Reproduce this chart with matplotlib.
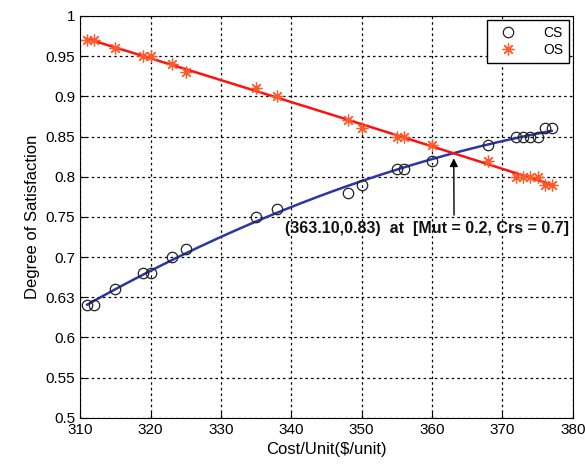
import numpy as np
import matplotlib
matplotlib.use("Agg")
import matplotlib.pyplot as plt

plt.rcParams["font.family"] = ["Liberation Sans", "DejaVu Sans"]

# ── Data ──────────────────────────────────────────────────────────────────────
cs_cost = [311, 312, 315, 319, 320, 323, 325, 335, 338, 348, 350, 355, 356,
           360, 368, 372, 373, 374, 375, 376, 377]
cs_sat = [0.64, 0.64, 0.66, 0.68, 0.68, 0.70, 0.71, 0.75, 0.76, 0.78, 0.79,
          0.81, 0.81, 0.82, 0.84, 0.85, 0.85, 0.85, 0.85, 0.86, 0.86]

os_cost = [311, 312, 315, 319, 320, 323, 325, 335, 338, 348, 350, 355, 356,
           360, 368, 372, 373, 374, 375, 376, 377]
os_sat = [0.97, 0.97, 0.96, 0.95, 0.95, 0.94, 0.93, 0.91, 0.90, 0.87, 0.86,
          0.85, 0.85, 0.84, 0.82, 0.80, 0.80, 0.80, 0.80, 0.79, 0.79]

x_ticks = [310, 320, 330, 340, 350, 360, 370, 380]
y_ticks = [0.5, 0.55, 0.6, 0.65, 0.7, 0.75, 0.8, 0.85, 0.9, 0.95, 1.0]
y_tick_labels = ["0.5", "0.55", "0.6", "0.63", "0.7", "0.75", "0.8", "0.85",
                 "0.9", "0.95", "1"]

cross_pt = (363.10, 0.83)
note = "(363.10,0.83)  at  [Mut = 0.2, Crs = 0.7]"

# ── Figure ────────────────────────────────────────────────────────────────────
fig = plt.figure(figsize=(5.85, 4.69), dpi=100)
ax = fig.add_axes([0.137, 0.109, 0.842, 0.857])

# fitted curves
xf = np.linspace(min(cs_cost), max(cs_cost), 200)
cs_fit = np.polyval(np.polyfit(cs_cost, cs_sat, 2), xf)
os_fit = np.polyval(np.polyfit(os_cost, os_sat, 2), xf)
ax.plot(xf, cs_fit, color="#2a35a8", lw=1.8, zorder=2)
ax.plot(xf, os_fit, color="#ff1010", lw=1.8, zorder=2)

# MATLAB-like asterisk marker
star = (8, 2, 0)
ax.plot(cs_cost, cs_sat, "o", mfc="none", mec="#222222", ms=7.5, mew=0.9,
        label="CS", zorder=3)
ax.plot(os_cost, os_sat, linestyle="none", marker=star, color="#ff5a2a",
        ms=8.5, mew=0.9, label="OS", zorder=3)

ax.annotate(note, xy=(cross_pt[0], cross_pt[1] - 0.007),
            xytext=(359.3, 0.736), textcoords="data",
            ha="center", va="center", fontsize=11.5, fontweight="bold",
            color="#111111",
            arrowprops=dict(arrowstyle="-|>", color="black", lw=1.0,
                            mutation_scale=12, shrinkA=2, shrinkB=0,
                            relpos=(0.595, 1.0)))

ax.set_xlim(310, 380)
ax.set_ylim(0.5, 1.0)
ax.set_xticks(x_ticks)
ax.set_yticks(y_ticks)
ax.set_yticklabels(y_tick_labels)
ax.tick_params(direction="in", labelsize=11, length=4)
ax.grid(True, color="black", linestyle=(0, (2, 2.5)), linewidth=0.9)
ax.set_axisbelow(True)

ax.set_xlabel("Cost/Unit($/unit)", fontsize=12)
ax.set_ylabel("Degree of Satisfaction", fontsize=12)

leg = ax.legend(loc="upper right", fontsize=10, fancybox=False,
                edgecolor="black", framealpha=1, borderaxespad=0.3,
                handlelength=2.2, handletextpad=1.4, borderpad=0.4,
                labelspacing=0.25)
leg.get_frame().set_linewidth(1.0)

fig.savefig("out.png", dpi=100)
